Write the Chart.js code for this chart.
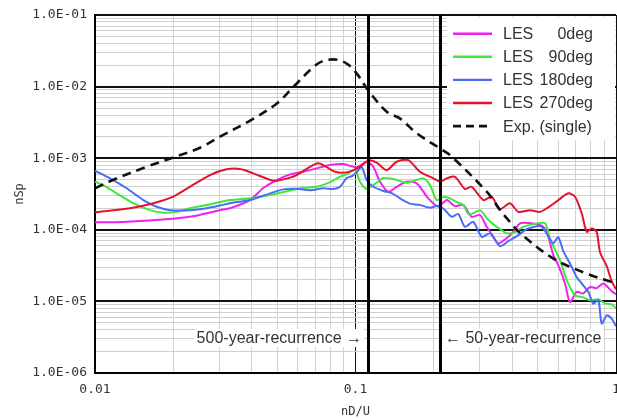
<!DOCTYPE html>
<html><head><meta charset="utf-8">
<script src="https://cdn.jsdelivr.net/npm/chart.js@4.4.1/dist/chart.umd.min.js"></script>
<style>html,body{margin:0;padding:0;background:#fff}canvas{display:block}</style>
</head><body>
<canvas id="c" width="617" height="419"></canvas>
<script>
// ---- data ----
const xTickLabels = [0.01, 0.1, 1];
const yTickLabels = [1e-6, 1e-5, 1e-4, 1e-3, 1e-2, 1e-1];
const seriesNames = ['LES 0deg', 'LES 90deg', 'LES 180deg', 'LES 270deg', 'Exp. (single)'];
const recurrenceValues = [0.1117, 0.211];
const recurrenceLabels = ['500-year-recurrence \u2192', '\u2190 50-year-recurrence'];

const les0X = [0.01,0.01284,0.01725,0.02315,0.03018,0.03297,0.03936,0.04428,0.04985,0.05607,0.06303,0.07097,0.07981,0.08979,0.1011,0.1104,0.117,0.1242,0.1336,0.1439,0.1572,0.1718,0.1903,0.208,0.224,0.241,0.2593,0.2793,0.3006,0.3189,0.3381,0.3533,0.3805,0.4035,0.4281,0.4747,0.526,0.5498,0.5746,0.6006,0.6371,0.6659,0.7066,0.7491,0.7948,0.8432,0.8939,0.9627,1.0];
const les0Y = [1.27e-4,1.29e-4,1.37e-4,1.52e-4,1.88e-4,2.0e-4,2.6e-4,3.83e-4,4.95e-4,5.95e-4,6.47e-4,7.21e-4,8.02e-4,8.28e-4,7.45e-4,8.92e-4,7.59e-4,4.69e-4,3.40e-4,3.99e-4,4.69e-4,4.45e-4,2.75e-4,2.10e-4,2.60e-4,2.14e-4,2.22e-4,1.52e-4,1.61e-4,1.10e-4,7.97e-5,6.45e-5,7.64e-5,9.36e-5,1.23e-4,1.23e-4,1.10e-4,7.97e-5,4.42e-5,3.21e-5,1.78e-5,9.8e-6,1.36e-5,1.29e-5,1.59e-5,1.53e-5,1.78e-5,1.39e-5,1.26e-5];

const les90X = [0.01,0.01076,0.01211,0.01403,0.01626,0.01829,0.02059,0.02315,0.02685,0.03018,0.03297,0.03936,0.04697,0.05445,0.06303,0.07097,0.07981,0.0872,0.09252,0.09956,0.104,0.1104,0.117,0.1279,0.1396,0.1572,0.1718,0.1821,0.1932,0.205,0.2174,0.2306,0.2446,0.2593,0.271,0.2832,0.3006,0.3235,0.3483,0.3805,0.4096,0.4408,0.4814,0.5339,0.5581,0.6095,0.6467,0.696,0.7491,0.7948,0.8553,0.9076,0.9627,1.0];
const les90Y = [4.69e-4,4.21e-4,3.23e-4,2.35e-4,1.88e-4,1.73e-4,1.78e-4,2.0e-4,2.22e-4,2.44e-4,2.60e-4,2.75e-4,3.05e-4,3.45e-4,3.86e-4,3.99e-4,4.64e-4,5.50e-4,6.0e-4,6.83e-4,4.69e-4,3.71e-4,4.21e-4,5.28e-4,5.11e-4,4.54e-4,4.95e-4,5.23e-4,4.21e-4,2.60e-4,2.86e-4,2.75e-4,2.44e-4,2.22e-4,1.66e-4,1.70e-4,1.88e-4,1.37e-4,1.10e-4,8.98e-5,9.27e-5,1.10e-4,1.20e-4,1.23e-4,7.40e-5,3.77e-5,1.98e-5,1.22e-5,1.14e-5,1.04e-5,1.07e-5,9.4e-6,9.1e-6,8.0e-6];

const les180X = [0.01,0.01142,0.01323,0.01532,0.01725,0.01941,0.02315,0.02685,0.03018,0.03297,0.03936,0.04697,0.05284,0.05947,0.06688,0.07522,0.08218,0.0872,0.09252,0.09696,0.1011,0.1056,0.1104,0.117,0.1279,0.1377,0.1482,0.1619,0.1768,0.1932,0.208,0.2206,0.2341,0.2481,0.2632,0.2832,0.3052,0.3283,0.3586,0.386,0.4217,0.4542,0.4962,0.5186,0.5498,0.5746,0.6006,0.6276,0.6659,0.7066,0.7385,0.783,0.8183,0.8553,0.8814,0.9213,0.9627,1.0];
const les180Y = [6.67e-4,5.23e-4,3.80e-4,2.60e-4,2.10e-4,1.88e-4,1.88e-4,2.0e-4,2.18e-4,2.35e-4,2.60e-4,3.23e-4,3.67e-4,3.73e-4,3.58e-4,3.80e-4,3.71e-4,3.99e-4,5.28e-4,5.63e-4,6.40e-4,7.52e-4,4.95e-4,3.99e-4,3.49e-4,3.26e-4,2.75e-4,2.32e-4,2.22e-4,2.04e-4,2.16e-4,1.88e-4,1.52e-4,1.66e-4,1.10e-4,1.29e-4,7.97e-5,8.89e-5,5.91e-5,6.94e-5,8.42e-5,1.02e-4,1.125e-4,1.10e-4,8.15e-5,6.45e-5,7.89e-5,5.03e-5,3.38e-5,2.18e-5,1.78e-5,1.36e-5,9.3e-6,1.04e-5,4.9e-6,6.4e-6,5.76e-6,4.5e-6];

const les270X = [0.01,0.01363,0.01674,0.01998,0.02315,0.02764,0.03203,0.03602,0.04053,0.04836,0.05284,0.05947,0.06688,0.07197,0.07636,0.08343,0.09252,0.104,0.112,0.1206,0.1318,0.1439,0.1595,0.1768,0.199,0.2111,0.224,0.241,0.2632,0.2793,0.3095,0.3333,0.3586,0.3919,0.4217,0.4677,0.5109,0.5581,0.6006,0.656,0.696,0.7385,0.7719,0.8068,0.8432,0.8683,0.9213,0.9627,1.0];
const les270Y = [1.76e-4,2.0e-4,2.35e-4,2.91e-4,3.99e-4,5.82e-4,6.99e-4,7.05e-4,6.14e-4,4.84e-4,5.06e-4,5.82e-4,7.59e-4,8.47e-4,7.77e-4,6.47e-4,6.34e-4,7.59e-4,9.33e-4,8.69e-4,6.83e-4,8.92e-4,9.42e-4,6.47e-4,5.23e-4,4.72e-4,5.23e-4,5.50e-4,3.71e-4,3.99e-4,2.60e-4,2.89e-4,1.95e-4,2.35e-4,1.78e-4,1.88e-4,1.78e-4,2.14e-4,2.60e-4,3.23e-4,2.89e-4,1.70e-4,9.37e-5,1.04e-4,9.37e-5,4.87e-5,3.11e-5,1.91e-5,1.48e-5];

const expX = [0.01,0.0117,0.0158,0.0196,0.0253,0.0302,0.0394,0.0499,0.0576,0.0718,0.082,0.0925,0.101,0.1117,0.1318,0.148,0.172,0.211,0.231,0.319,0.359,0.392,0.428,0.573,0.771,0.964,1.0];
const expY = [3.8e-4,4.95e-4,7.6e-4,1.0e-3,1.4e-3,2.0e-3,3.35e-3,5.8e-3,9.8e-3,2.1e-2,2.4e-2,2.1e-2,1.53e-2,8.95e-3,4.45e-3,3.6e-3,2.22e-3,1.37e-3,1.1e-3,3.4e-4,1.88e-4,1.29e-4,9.0e-5,4.0e-5,2.45e-5,1.87e-5,1.8e-5];

// ---- styling ----
const seriesColors = ['#f020f0', '#3ee83e', '#4a6cf7', '#e3132c', '#111111'];
const TXT = '#333';
const sansFont = '"Liberation Sans", Arial, sans-serif';
const monoFont = '"DejaVu Sans Mono", monospace';

function pts(xs, ys) { return xs.map((x, i) => ({x: x, y: ys[i]})); }
function isDecade(v) { const l = Math.log10(v); return Math.abs(l - Math.round(l)) < 1e-9; }
function logTicks(min, max) {
  const t = [];
  for (let e = Math.round(Math.log10(min)); e < Math.round(Math.log10(max)); e++) {
    for (let m = 1; m < 10; m++) t.push({value: parseFloat((m * Math.pow(10, e)).toPrecision(6))});
  }
  t.push({value: max});
  return t;
}
function fmtY(v) {
  const e = Math.round(Math.log10(v));
  const s = Math.abs(e) < 10 ? '0' + Math.abs(e) : '' + Math.abs(e);
  return '1.0E' + (e < 0 ? '-' : '+') + s;
}

const xs = [les0X, les90X, les180X, les270X, expX];
const ys = [les0Y, les90Y, les180Y, les270Y, expY];
const datasets = seriesNames.map((n, i) => ({
  label: n,
  data: pts(xs[i], ys[i]),
  borderColor: seriesColors[i],
  backgroundColor: seriesColors[i],
  borderWidth: i === 4 ? 2.6 : 2,
  borderDash: i === 4 ? [9, 6] : [],
  showLine: true,
  pointRadius: 0,
  tension: i === 4 ? 0.35 : 0.25,
  order: i === 4 ? 0 : 4 - i + 1
}));

const bgPlugin = {
  id: 'bg',
  beforeDraw(chart) {
    const c = chart.ctx; c.save(); c.fillStyle = '#fff'; c.fillRect(0, 0, chart.width, chart.height); c.restore();
  }
};

const markerPlugin = {
  id: 'markers',
  afterDatasetsDraw(chart) {
    const c = chart.ctx, xa = chart.scales.x, ca = chart.chartArea;
    c.save();
    // recurrence labels with white background
    c.font = '16px ' + sansFont;
    c.textBaseline = 'middle';
    const ty = ca.bottom - 35;
    recurrenceValues.forEach((v, i) => {
      const px = xa.getPixelForValue(v);
      const txt = recurrenceLabels[i];
      const w = c.measureText(txt).width;
      const x0 = i === 0 ? px - 6 - w : px + 5;
      c.fillStyle = '#fff';
      c.fillRect(x0 - 2, ty - 9, w + 4, 18);
      c.fillStyle = TXT;
      c.textAlign = 'left';
      c.fillText(txt, x0, ty + 1);
    });
    // recurrence vertical lines
    c.strokeStyle = '#000';
    c.lineWidth = 3;
    recurrenceValues.forEach(v => {
      const px = Math.round(xa.getPixelForValue(v)) + 0.5;
      c.beginPath(); c.moveTo(px, ca.top); c.lineTo(px, ca.bottom); c.stroke();
    });
    // legend box
    const lx = ca.right - 169, ly = ca.top + 2, lw = 168, lh = 123;
    c.fillStyle = '#fff';
    c.fillRect(lx, ly, lw, lh);
    c.font = '16px ' + sansFont;
    c.textBaseline = 'middle';
    seriesNames.forEach((n, i) => {
      const yy = ca.top + 18.7 + i * 23.1;
      c.strokeStyle = seriesColors[i];
      c.lineWidth = i === 4 ? 2.6 : 2.4;
      c.setLineDash(i === 4 ? [8, 5] : []);
      c.beginPath(); c.moveTo(lx + 6, yy); c.lineTo(lx + 45, yy); c.stroke();
      c.setLineDash([]);
      c.fillStyle = TXT;
      const parts = n.split(' ');
      if (parts[0] === 'LES') {
        c.textAlign = 'left'; c.fillText(parts[0], lx + 56, yy + 1);
        c.textAlign = 'right'; c.fillText(parts.slice(1).join(' '), lx + 146, yy + 1);
      } else {
        c.textAlign = 'left'; c.fillText(n, lx + 56, yy + 1);
      }
    });
    c.restore();
  }
};

new Chart(document.getElementById('c'), {
  type: 'scatter',
  data: {datasets},
  plugins: [bgPlugin, markerPlugin],
  options: {
    responsive: false,
    animation: false,
    devicePixelRatio: 1,
    layout: {padding: {left: 0, right: 1, top: 15, bottom: 0}},
    plugins: {legend: {display: false}, tooltip: {enabled: false}},
    scales: {
      x: {
        type: 'logarithmic', min: 0.01, max: 1,
        afterBuildTicks: s => { s.ticks = logTicks(0.01, 1); },
        afterFit: s => { s.height = 46; s.paddingLeft = 0; s.paddingRight = 0; },
        ticks: {
          autoSkip: false, maxRotation: 0, padding: 9, color: TXT,
          font: {family: monoFont, size: 13},
          callback: v => xTickLabels.some(t => Math.abs(t - v) < 1e-9) ? String(v) : ''
        },
        grid: {
          drawTicks: false,
          color: ctx => (ctx.tick && isDecade(ctx.tick.value)) ? '#111' : '#d2d2d2',
          lineWidth: 1
        },
        border: {color: '#000', width: 2},
        title: {display: true, text: 'nD/U', color: TXT, font: {family: monoFont, size: 12}, padding: {top: 0, bottom: 0}}
      },
      y: {
        type: 'logarithmic', min: 1e-6, max: 1e-1,
        afterBuildTicks: s => { s.ticks = logTicks(1e-6, 1e-1); },
        afterFit: s => { s.width = 95; s.paddingTop = 0; s.paddingBottom = 0; },
        ticks: {
          autoSkip: false, padding: 8, color: TXT,
          font: {family: monoFont, size: 13},
          callback: v => yTickLabels.some(t => Math.abs(Math.log10(t) - Math.log10(v)) < 1e-6) ? fmtY(v) : ''
        },
        grid: {
          drawTicks: false,
          color: ctx => (ctx.tick && isDecade(ctx.tick.value)) ? '#111' : '#cfcfcf',
          lineWidth: ctx => (ctx.tick && isDecade(ctx.tick.value)) ? 2 : 1
        },
        border: {color: '#000', width: 2},
        title: {display: true, text: 'nSp', color: TXT, font: {family: monoFont, size: 12}, padding: {top: 13, bottom: 0}}
      }
    }
  }
});
</script>
</body></html>
